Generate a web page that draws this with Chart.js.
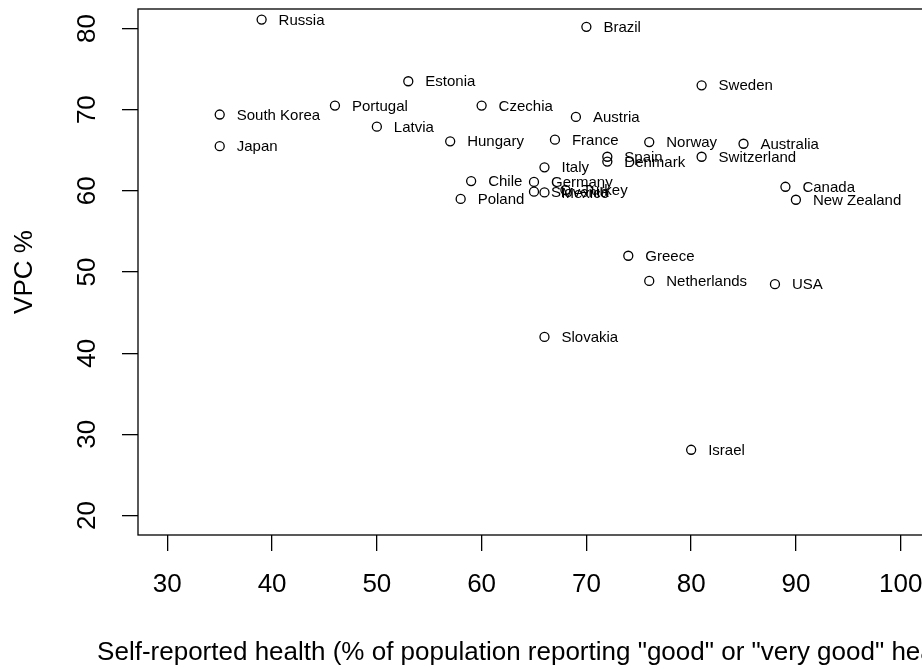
<!DOCTYPE html>
<html><head><meta charset="utf-8">
<script src="https://cdn.jsdelivr.net/npm/chart.js@4"></script>
<style>html,body{margin:0;padding:0;overflow:hidden;background:#fff}</style>
</head><body>
<canvas id="c" width="960" height="669"></canvas>
<script>
const countries = ['Russia','Brazil','Estonia','Sweden','South Korea','Portugal','Czechia','Austria','Latvia','Japan','Hungary','France','Norway','Australia','Spain','Denmark','Switzerland','Italy','Chile','Germany','Slovenia','Mexico','Turkey','Poland','Canada','New Zealand','Greece','Netherlands','USA','Slovakia','Israel'];
const selfHealth = [39,70,53,81,35,46,60,69,50,35,57,67,76,85,72,72,81,66,59,65,65,66,68,58,89,90,74,76,88,66,80];
const vpc = [81.1,80.2,73.5,73.0,69.4,70.5,70.5,69.1,67.9,65.5,66.1,66.3,66.0,65.8,64.2,63.6,64.2,62.9,61.2,61.1,59.9,59.8,60.1,59.0,60.5,58.9,52.0,48.9,48.5,42.0,28.1];
const xTicks = [30,40,50,60,70,80,90,100];
const yTicks = [20,30,40,50,60,70,80];
const xTitle = 'Self-reported health (% of population reporting "good" or "very good" health)';
const yTitle = 'VPC %';
const FONT = '"Liberation Sans", Arial, sans-serif';

const overlay = {
  id: 'overlay',
  afterDraw(chart) {
    const {ctx, chartArea: a, scales: {x, y}} = chart;
    ctx.save();
    ctx.strokeStyle = '#000'; ctx.lineWidth = 1.3;
    ctx.strokeRect(a.left, a.top, a.right - a.left, a.bottom - a.top);
    ctx.fillStyle = '#000';
    ctx.font = '26px ' + FONT;
    ctx.textAlign = 'center'; ctx.textBaseline = 'middle';
    xTicks.forEach(v => ctx.fillText(String(v), x.getPixelForValue(v), a.bottom + 50));
    yTicks.forEach(v => {
      ctx.save();
      ctx.translate(a.left - 50, y.getPixelForValue(v));
      ctx.rotate(-Math.PI / 2);
      ctx.fillText(String(v), 0, 0);
      ctx.restore();
    });
    ctx.textBaseline = 'alphabetic';
    ctx.fillText(xTitle, (a.left + a.right) / 2, a.bottom + 125);
    ctx.save();
    ctx.translate(a.left - 113, (a.top + a.bottom) / 2);
    ctx.rotate(-Math.PI / 2);
    ctx.textBaseline = 'middle';
    ctx.fillText(yTitle, 0, 0);
    ctx.restore();
    ctx.font = '15px ' + FONT;
    ctx.textAlign = 'left'; ctx.textBaseline = 'middle';
    chart.getDatasetMeta(0).data.forEach((pt, i) => ctx.fillText(countries[i], pt.x + 17, pt.y + 1));
    ctx.restore();
  }
};

const axisCommon = {
  type: 'linear',
  ticks: {display: false},
  grid: {display: true, drawOnChartArea: false, drawTicks: true, tickLength: 16, color: '#000', lineWidth: 1.3},
  border: {display: false}
};

new Chart(document.getElementById('c'), {
  type: 'scatter',
  data: {
    datasets: [{
      data: selfHealth.map((v, i) => ({x: v, y: vpc[i]})),
      pointRadius: 4.5,
      pointHoverRadius: 4.5,
      borderColor: '#000',
      borderWidth: 1.3,
      backgroundColor: 'rgba(0,0,0,0)'
    }]
  },
  options: {
    responsive: false,
    animation: false,
    devicePixelRatio: 1,
    events: [],
    layout: {padding: {top: 9, right: 30, left: 0, bottom: 0}},
    plugins: {legend: {display: false}, tooltip: {enabled: false}},
    scales: {
      x: Object.assign({}, axisCommon, {
        min: 27.2, max: 102.8,
        afterBuildTicks: s => { s.ticks = xTicks.map(v => ({value: v})); },
        afterFit: s => { s.height = 134; }
      }),
      y: Object.assign({}, axisCommon, {
        min: 17.6, max: 82.4,
        afterBuildTicks: s => { s.ticks = yTicks.map(v => ({value: v})); },
        afterFit: s => { s.width = 138; }
      })
    }
  },
  plugins: [overlay]
});
</script>
</body></html>
